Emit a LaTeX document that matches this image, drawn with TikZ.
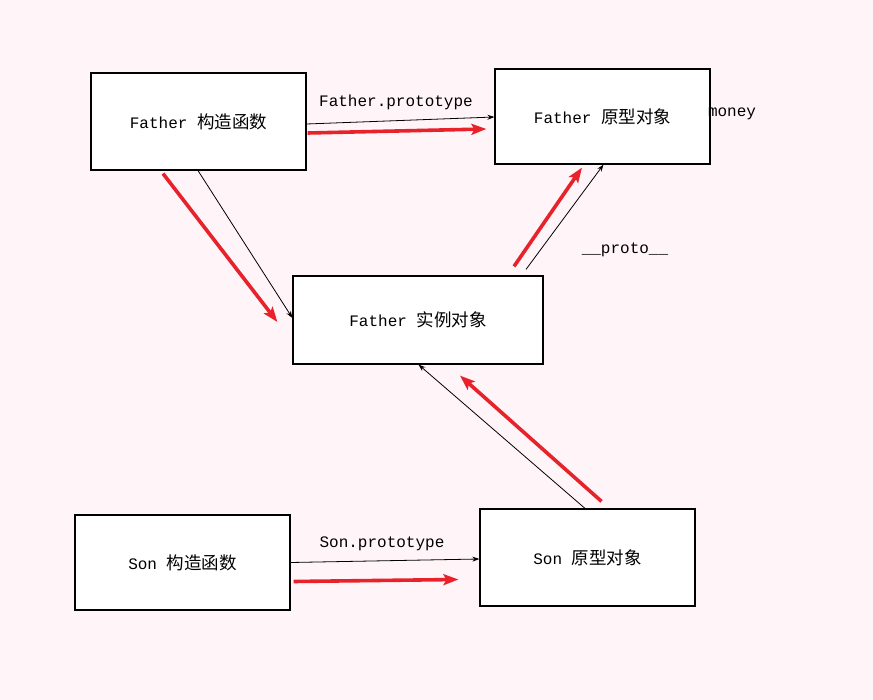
\documentclass[tikz,border=0pt]{standalone}
\usepackage{fontspec}
\setmainfont{Liberation Mono}
\newfontfamily\cjkfont{Noto Sans CJK SC}
\usetikzlibrary{arrows.meta,calc}
\newcommand{\cn}[1]{{\cjkfont\fontsize{17.5}{20}\selectfont #1}}
\definecolor{bgpink}{HTML}{FFF5F8}
\definecolor{arrred}{HTML}{E8222B}
\tikzset{
  box/.style={draw=black, line width=1.2pt, fill=white, inner sep=0pt,
    font=\fontsize{16}{20}\selectfont},
  lbl/.style={inner sep=0pt, font=\fontsize{16}{20}\selectfont},
  thinarr/.style={draw=black, line width=0.8pt, -{Stealth[length=7pt,width=5pt]}},
  redarr/.style={draw=arrred, line width=3.6pt, -{Stealth[length=15pt,width=11pt,inset=3pt]}}
}
\begin{document}
\begin{tikzpicture}[x=1pt,y=-1pt]
\path[use as bounding box, fill=bgpink] (0,0) rectangle (873,700);

\node[box, minimum width=215pt, minimum height=97pt] (fc) at (198.5,121.5) {Father \cn{构造函数}};
\node[box, minimum width=215pt, minimum height=95pt] (fp) at (602.5,116.5) {Father \cn{原型对象}};
\node[box, minimum width=250pt, minimum height=88pt] (fi) at (418,320) {Father \cn{实例对象}};
\node[box, minimum width=215pt, minimum height=95pt] (sc) at (182.5,562.5) {Son \cn{构造函数}};
\node[box, minimum width=215pt, minimum height=97pt] (sp) at (587.5,557.5) {Son \cn{原型对象}};

\node[lbl] (lfp) at (396,102) {Father.prototype};
\node[lbl] (lsp) at (382,544) {Son.prototype};
\node[lbl] (lproto) at (625,250) {\_\_proto\_\_};
\node[lbl] (lmoney) at (732,114) {money};

% Father constructor -> Father prototype
\draw[thinarr] ($(fc.east)+(0,2.5)$) -- ($(fp.west)+(0,0.5)$);
\draw[redarr] ($(fc.east)+(1,11.5)$) -- ($(fp.west)+(-8,12.5)$);

% Father constructor -> Father instance
\draw[thinarr] ($(fc.south)+(-0.5,0)$) -- ($(fi.west)+(0,-2)$);
\draw[redarr] ($(fc.south)+(-35.5,3)$) -- ($(fi.west)+(-15,2)$);

% Father instance -> Father prototype
\draw[thinarr] ($(fi.north)+(108,-6)$) -- ($(fp.south)+(1,0)$);
\draw[redarr] ($(fi.north)+(96,-9)$) -- ($(fp.south)+(-20.5,3)$);

% Son prototype -> Father instance
\draw[thinarr] ($(sp.north)+(-2.5,0)$) -- ($(fi.south)+(0.5,0)$);
\draw[redarr] ($(sp.north)+(14,-7)$) -- ($(fi.south)+(42,11)$);

% Son constructor -> Son prototype
\draw[thinarr] ($(sc.east)+(0,0)$) -- ($(sp.west)+(0,1.5)$);
\draw[redarr] ($(sc.east)+(3,19)$) -- ($(sp.west)+(-21,22)$);
\end{tikzpicture}
\end{document}
